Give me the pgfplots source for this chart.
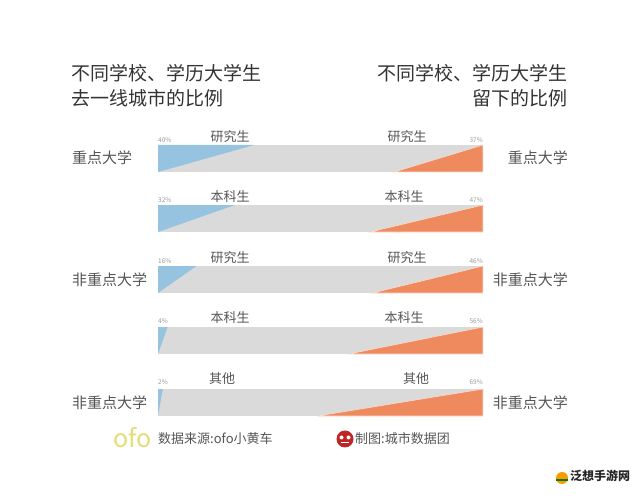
\documentclass[border=0pt]{standalone}
\usepackage{pgfplots}
\pgfplotsset{compat=1.18}
\usepackage{fontspec}
\setmainfont{Noto Sans CJK SC}
\definecolor{barGray}{HTML}{DADADA}
\definecolor{barBlue}{HTML}{95C3E0}
\definecolor{barOrange}{HTML}{EE8A5E}
\definecolor{txtDark}{HTML}{333333}
\definecolor{txtMid}{HTML}{555555}
\definecolor{txtLight}{HTML}{999999}
\definecolor{ofoYellow}{HTML}{E3DD78}
\begin{document}
\begin{tikzpicture}
\begin{axis}[
  at={(0,0)}, anchor=south west,
  width=639pt, height=500pt, scale only axis,
  xmin=-65.833, xmax=200.417, ymin=0, ymax=500, y dir=reverse,
  hide axis, clip=false]
% grey bars (x in percent, y in rows)
\addplot[fill=barGray, draw=none] coordinates {(0,145) (135.4,145) (135.4,172) (0,172)} --cycle;
\addplot[fill=barGray, draw=none] coordinates {(0,205) (135.4,205) (135.4,232) (0,232)} --cycle;
\addplot[fill=barGray, draw=none] coordinates {(0,266) (135.4,266) (135.4,293) (0,293)} --cycle;
\addplot[fill=barGray, draw=none] coordinates {(0,327) (135.4,327) (135.4,354) (0,354)} --cycle;
\addplot[fill=barGray, draw=none] coordinates {(0,389) (135.4,389) (135.4,416) (0,416)} --cycle;
% blue: share going to first-tier cities (40, 32, 16, 4, 2)
\addplot[fill=barBlue, draw=none] coordinates {(0,145) (40,145) (0,172)} --cycle;
\addplot[fill=barBlue, draw=none] coordinates {(0,205) (32,205) (0,232)} --cycle;
\addplot[fill=barBlue, draw=none] coordinates {(0,266) (16,266) (0,293)} --cycle;
\addplot[fill=barBlue, draw=none] coordinates {(0,327) (4,327) (0,354)} --cycle;
\addplot[fill=barBlue, draw=none] coordinates {(0,389) (2,389) (0,416)} --cycle;
% orange: share staying (37, 47, 46, 56, 69), drawn from the right end 135.4
\addplot[fill=barOrange, draw=white!70!barOrange, line width=0.6pt] coordinates {(135.4,145) (135.4,172) (98.4,172)} --cycle;
\addplot[fill=barOrange, draw=white!70!barOrange, line width=0.6pt] coordinates {(135.4,205) (135.4,232) (88.4,232)} --cycle;
\addplot[fill=barOrange, draw=white!70!barOrange, line width=0.6pt] coordinates {(135.4,266) (135.4,293) (89.4,293)} --cycle;
\addplot[fill=barOrange, draw=white!70!barOrange, line width=0.6pt] coordinates {(135.4,327) (135.4,354) (79.4,354)} --cycle;
\addplot[fill=barOrange, draw=white!70!barOrange, line width=0.6pt] coordinates {(135.4,389) (135.4,416) (66.4,416)} --cycle;
\end{axis}
\begin{scope}[x=1pt, y=-1pt, shift={(0,500pt)}]
% titles
\node[anchor=west, text=txtDark, font=\fontsize{19}{22}\selectfont, inner sep=0] at (71,73) {不同学校、学历大学生};
\node[anchor=west, text=txtDark, font=\fontsize{19}{22}\selectfont, inner sep=0] at (71,98) {去一线城市的比例};
\node[anchor=east, text=txtDark, font=\fontsize{19}{22}\selectfont, inner sep=0] at (568,73) {不同学校、学历大学生};
\node[anchor=east, text=txtDark, font=\fontsize{19}{22}\selectfont, inner sep=0] at (568,98) {留下的比例};
% side labels
\foreach \yy/\lab in {158/重点大学, 280/非重点大学, 403/非重点大学}{
  \node[anchor=west, text=txtMid, font=\fontsize{15}{18}\selectfont, inner sep=0] at (72,\yy) {\lab};
  \node[anchor=east, text=txtMid, font=\fontsize{15}{18}\selectfont, inner sep=0] at (568,\yy) {\lab};
}
% bar captions
\foreach \yy/\lab/\lx/\rx in {137/研究生/230/407, 197/本科生/230/404, 258/研究生/230/407, 318/本科生/230/404, 379/其他/222/416}{
  \node[text=txtMid, font=\fontsize{13}{15}\selectfont, inner sep=0] at (\lx,\yy) {\lab};
  \node[text=txtMid, font=\fontsize{13}{15}\selectfont, inner sep=0] at (\rx,\yy) {\lab};
}
% percent labels
\foreach \yy/\lv/\rv in {140/40/37, 200/32/47, 261/16/46, 321/4/56, 382/2/69}{
  \node[anchor=west, text=txtLight, font=\fontsize{6.5}{8}\selectfont, inner sep=0] at (158,\yy) {\lv\%};
  \node[anchor=east, text=txtLight, font=\fontsize{6.5}{8}\selectfont, inner sep=0] at (483,\yy) {\rv\%};
}
% footer
\node[anchor=west, text=ofoYellow, font=\fontsize{25}{26}\selectfont, inner sep=0] at (113,438) {ofo};
\node[anchor=west, text=txtMid, font=\fontsize{13}{15}\selectfont, inner sep=0] at (158,439) {数据来源:ofo小黄车};
\fill[red!70!black!85!white] (345,439) circle (8.5);
\fill[white] (341.5,437.5) circle (2) (348.5,437.5) circle (2);
\draw[white, line width=1pt] (341,443) -- (349,443);
\node[anchor=west, text=txtMid, font=\fontsize{13}{15}\selectfont, inner sep=0] at (355,439) {制图:城市数据团};
% watermark
\fill[orange!80!yellow] (562,478) circle (6);
\fill[green!50!black] (556,479) rectangle (568,481);
\node[anchor=west, text=black!85, font=\fontsize{12}{13}\selectfont\bfseries, inner sep=0] at (570,476) {泛想手游网};
\end{scope}
\pgfresetboundingbox
\path (0,0) rectangle (639pt,500pt);
\end{tikzpicture}
\end{document}
